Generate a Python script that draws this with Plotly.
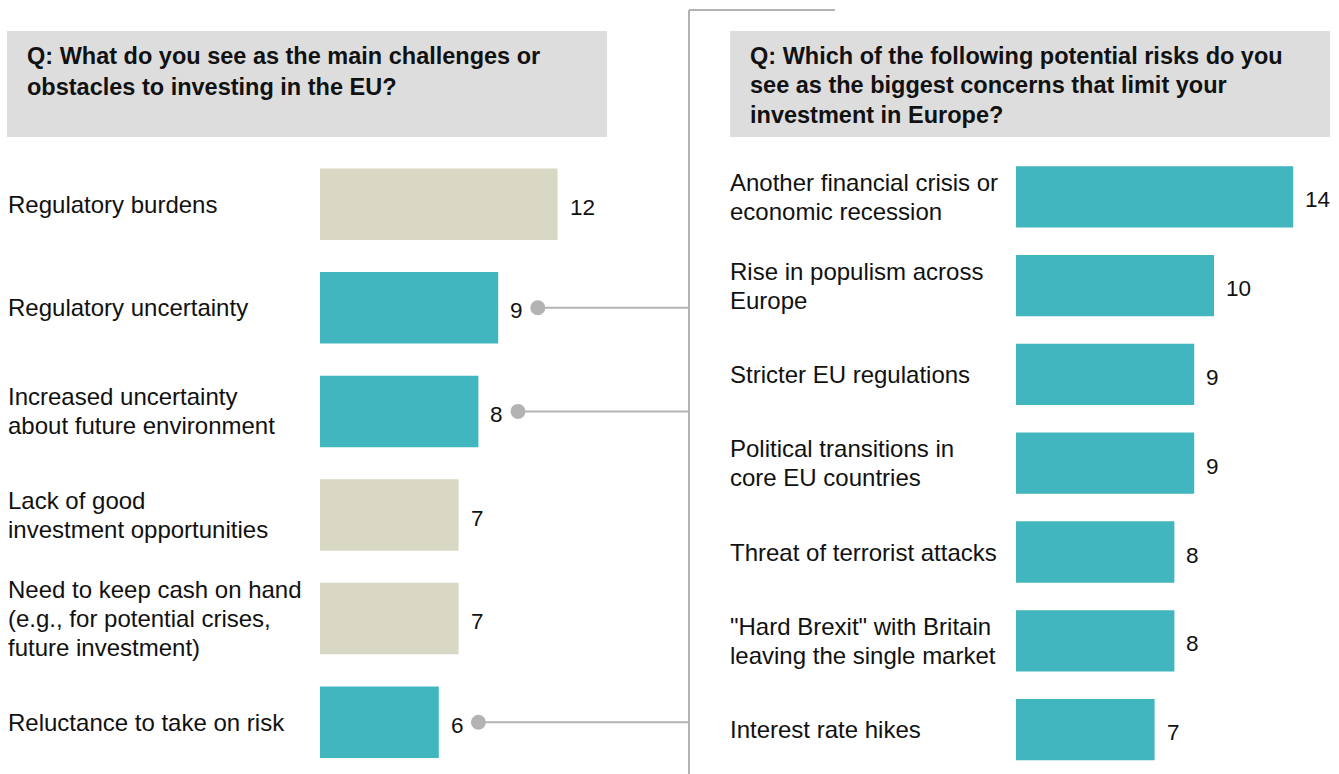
import plotly.graph_objects as go

W, H = 1339, 774

# Left panel: main challenges to investing in the EU
left_title = ["Q: What do you see as the main challenges or",
              "obstacles to investing in the EU?"]
left_categories = [
    "Regulatory burdens",
    "Regulatory uncertainty",
    "Increased uncertainty<br>about future environment",
    "Lack of good<br>investment opportunities",
    "Need to keep cash on hand<br>(e.g., for potential crises,<br>future investment)",
    "Reluctance to take on risk",
]
left_values = [12, 9, 8, 7, 7, 6]
left_linked = [False, True, True, False, False, True]

# Right panel: risks that limit investment in Europe
right_title = ["Q: Which of the following potential risks do you",
               "see as the biggest concerns that limit your",
               "investment in Europe?"]
right_categories = [
    "Another financial crisis or<br>economic recession",
    "Rise in populism across<br>Europe",
    "Stricter EU regulations",
    "Political transitions in<br>core EU countries",
    "Threat of terrorist attacks",
    "\"Hard Brexit\" with Britain<br>leaving the single market",
    "Interest rate hikes",
]
right_values = [14, 10, 9, 9, 8, 8, 7]

TEAL = "#41B6BF"
BEIGE = "#D9D8C5"
GREY_BOX = "#DDDDDD"
CONNECT = "#B3B3B3"
FONT = "Liberation Sans, Arial, sans-serif"

PX_PER_UNIT = 19.8
left_x0, spine_x = 320, 689
right_x0 = 1016
left_max = (spine_x - left_x0) / PX_PER_UNIT
right_max = (W - right_x0) / PX_PER_UNIT
y_dom = [0, 1 - 152.4 / H]

fig = go.Figure()

fig.add_trace(go.Bar(
    x=left_values, y=list(range(len(left_values))), orientation="h",
    marker=dict(color=[TEAL if f else BEIGE for f in left_linked], line=dict(width=0)),
    xaxis="x", yaxis="y", hoverinfo="skip", showlegend=False,
))
fig.add_trace(go.Bar(
    x=right_values, y=list(range(len(right_values))), orientation="h",
    marker=dict(color=TEAL, line=dict(width=0)),
    xaxis="x2", yaxis="y2", hoverinfo="skip", showlegend=False,
))

# Connector lines and dots from the linked challenges to the spine
DOT_OFFSET = 2.0
for i, (v, linked) in enumerate(zip(left_values, left_linked)):
    if not linked:
        continue
    fig.add_trace(go.Scatter(
        x=[v + DOT_OFFSET, left_max], y=[i, i], mode="lines",
        line=dict(color=CONNECT, width=2), cliponaxis=False,
        xaxis="x", yaxis="y", hoverinfo="skip", showlegend=False,
    ))
    fig.add_trace(go.Scatter(
        x=[v + DOT_OFFSET], y=[i], mode="markers",
        marker=dict(color=CONNECT, size=15), cliponaxis=False,
        xaxis="x", yaxis="y", hoverinfo="skip", showlegend=False,
    ))

annotations = []


def add_category_labels(cats, yref, x_px):
    for i, cat in enumerate(cats):
        lines = cat.split("<br>")
        k = len(lines)
        for j, line in enumerate(lines):
            annotations.append(dict(
                text=line, xref="paper", x=x_px / W, xanchor="left",
                yref=yref, y=i, yanchor="middle",
                yshift=((k - 1) / 2 - j) * 29,
                showarrow=False, font=dict(family=FONT, size=24, color="#111111"),
            ))


def add_value_labels(vals, xref, yref):
    for i, v in enumerate(vals):
        annotations.append(dict(
            text=str(v), xref=xref, x=v, xanchor="left", xshift=10,
            yref=yref, y=i, yanchor="middle", yshift=-3,
            showarrow=False, font=dict(family=FONT, size=22.5, color="#111111"),
        ))


def add_title(lines, x_px, y_first, step=30):
    for j, line in enumerate(lines):
        annotations.append(dict(
            text="<b>" + line + "</b>", xref="paper", x=x_px / W, xanchor="left",
            yref="paper", y=1 - (y_first + j * step) / H, yanchor="middle",
            showarrow=False, font=dict(family=FONT, size=23.5, color="#111111"),
        ))


add_category_labels(left_categories, "y", 6)
add_category_labels(right_categories, "y2", 728)
add_value_labels(left_values, "x", "y")
add_value_labels(right_values, "x2", "y2")
add_title(left_title, 25, 56, 30.5)
add_title(right_title, 748, 56, 29.5)

shapes = [
    # question header boxes
    dict(type="rect", xref="paper", yref="paper", layer="below",
         x0=7 / W, x1=607 / W, y0=1 - 137 / H, y1=1 - 31 / H,
         fillcolor=GREY_BOX, line=dict(width=0)),
    dict(type="rect", xref="paper", yref="paper", layer="below",
         x0=730 / W, x1=1330 / W, y0=1 - 137 / H, y1=1 - 31 / H,
         fillcolor=GREY_BOX, line=dict(width=0)),
    # spine linking the two panels
    dict(type="line", xref="paper", yref="paper",
         x0=spine_x / W, x1=spine_x / W, y0=0, y1=1 - 10 / H,
         line=dict(color=CONNECT, width=2)),
    dict(type="line", xref="paper", yref="paper",
         x0=spine_x / W, x1=835 / W, y0=1 - 10 / H, y1=1 - 10 / H,
         line=dict(color=CONNECT, width=2)),
]

fig.update_layout(
    width=W, height=H,
    margin=dict(l=0, r=0, t=0, b=0),
    paper_bgcolor="white", plot_bgcolor="white",
    bargap=0.31,
    showlegend=False,
    font=dict(family=FONT),
    xaxis=dict(domain=[left_x0 / W, spine_x / W], range=[0, left_max],
               visible=False, fixedrange=True),
    yaxis=dict(domain=y_dom, range=[len(left_values) - 0.5, -0.5],
               visible=False, fixedrange=True),
    xaxis2=dict(domain=[right_x0 / W, 1], range=[0, right_max],
                visible=False, fixedrange=True),
    yaxis2=dict(domain=y_dom, range=[len(right_values) - 0.5, -0.5],
                visible=False, fixedrange=True, anchor="x2"),
    annotations=annotations,
    shapes=shapes,
)

fig.write_html("out.html")
